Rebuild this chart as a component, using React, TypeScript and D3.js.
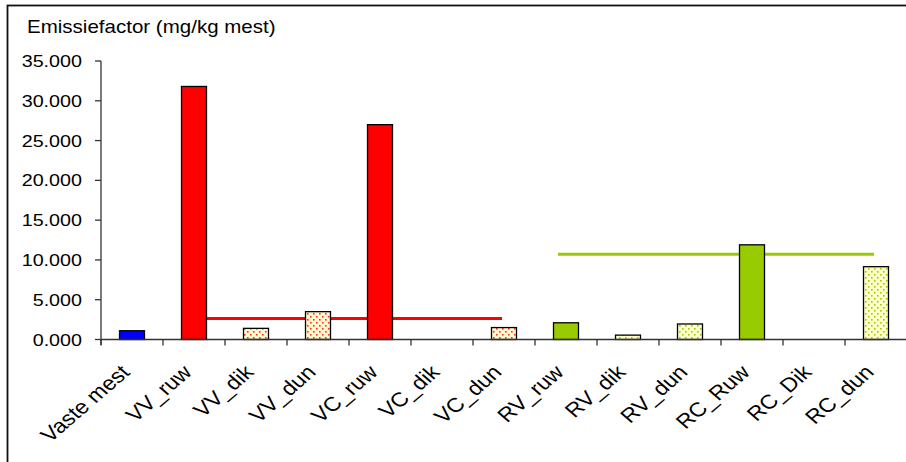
import React from "react";
import * as d3 from "d3";

const categories = ["Vaste mest", "VV_ruw", "VV_dik", "VV_dun", "VC_ruw", "VC_dik", "VC_dun", "RV_ruw", "RV_dik", "RV_dun", "RC_Ruw", "RC_Dik", "RC_dun"];
const values = [1100, 31800, 1400, 3500, 27000, 0, 1500, 2100, 550, 1950, 11900, 0, 9150];
const fills = ["blue", "red", "redDots", "redDots", "red", "redDots", "redDots", "green", "greenDots", "greenDots", "green", "greenDots", "greenDots"];
const yTicks = [0, 5000, 10000, 15000, 20000, 25000, 30000, 35000];
const yTickLabels = ["0.000", "5.000", "10.000", "15.000", "20.000", "25.000", "30.000", "35.000"];
const avgLines = [
  { from: "VV_ruw", to: "VC_dun", value: 2650, color: "#FF0000", startOffset: 0, endOffset: -2 },
  { from: "RV_ruw", to: "RC_dun", value: 10700, color: "#99CC00", startOffset: -8, endOffset: -2 },
];
const title = "Emissiefactor (mg/kg mest)";

const SX = 1.16;
const FONT = "'Liberation Sans', Arial, Helvetica, sans-serif";

export default function App() {
  const W = 906, H = 462;
  const x0 = 101, step = 62;
  const x = d3.scaleBand<string>().domain(categories).range([x0, x0 + step * categories.length]).paddingInner(0.597).paddingOuter(0.2985);
  const xb = d3.scaleBand<string>().domain(categories).range([x0, x0 + step * categories.length]).padding(0);
  const y = d3.scaleLinear().domain([0, 35000]).range([339.5, 61]);
  const fillMap: Record<string, string> = {
    blue: "#0000FF",
    red: "#FF0000",
    green: "#99CC00",
    redDots: "url(#redDots)",
    greenDots: "url(#greenDots)",
  };
  const center = (c: string) => (xb(c) as number) + xb.bandwidth() / 2;
  return (
    <svg width={W} height={H} style={{ position: "absolute", left: 0, top: 0, background: "#fff" }} fontFamily={FONT}>
      <defs>
        <pattern id="redDots" patternUnits="userSpaceOnUse" width="6" height="6">
          <rect width="6" height="6" fill="#FFF8CC" />
          <rect x="1" y="1" width="1.6" height="1.6" fill="#FF3030" />
          <rect x="4" y="4" width="1.6" height="1.6" fill="#FF3030" />
        </pattern>
        <pattern id="greenDots" patternUnits="userSpaceOnUse" width="6" height="6">
          <rect width="6" height="6" fill="#FFFFCC" />
          <rect x="1" y="1" width="1.6" height="1.6" fill="#99CC00" />
          <rect x="4" y="4" width="1.6" height="1.6" fill="#99CC00" />
        </pattern>
      </defs>
      <rect x={7.5} y={5.5} width={W + 10} height={H + 10} fill="none" stroke="#111" strokeWidth={1.8} />
      <text transform={`translate(27,33) scale(${SX},1)`} fontSize={17.7} fill="#000">{title}</text>

      {avgLines.map((l, i) => (
        <line key={i} x1={center(l.from) + l.startOffset} x2={center(l.to) + l.endOffset} y1={y(l.value)} y2={y(l.value)} stroke={l.color} strokeWidth={3} />
      ))}

      {categories.map((c, i) =>
        values[i] > 0 ? (
          <rect key={c} x={x(c)} y={y(values[i])} width={x.bandwidth()} height={y(0) - y(values[i])} fill={fillMap[fills[i]]} stroke="#000" strokeWidth={1.3} />
        ) : null
      )}

      <line x1={x0} x2={x0} y1={y(35000)} y2={345} stroke="#333" strokeWidth={1.3} />
      {yTicks.map((t, i) => (
        <g key={t}>
          <line x1={x0 - 6} x2={x0} y1={y(t)} y2={y(t)} stroke="#333" strokeWidth={1.3} />
          <text transform={`translate(82,${y(t) + 6}) scale(${SX},1)`} textAnchor="end" fontSize={17} fill="#000">{yTickLabels[i]}</text>
        </g>
      ))}

      <line x1={x0} x2={W} y1={y(0)} y2={y(0)} stroke="#333" strokeWidth={1.3} />
      {categories.map((c) => (
        <line key={c} x1={xb(c)} x2={xb(c)} y1={y(0)} y2={345.5} stroke="#333" strokeWidth={1.3} />
      ))}
      {categories.map((c) => (
        <text key={c} transform={`translate(${center(c) - 1},${y(0) + 34}) scale(${SX},1) rotate(-45)`} textAnchor="end" fontSize={20} fill="#000">{c}</text>
      ))}
    </svg>
  );
}
